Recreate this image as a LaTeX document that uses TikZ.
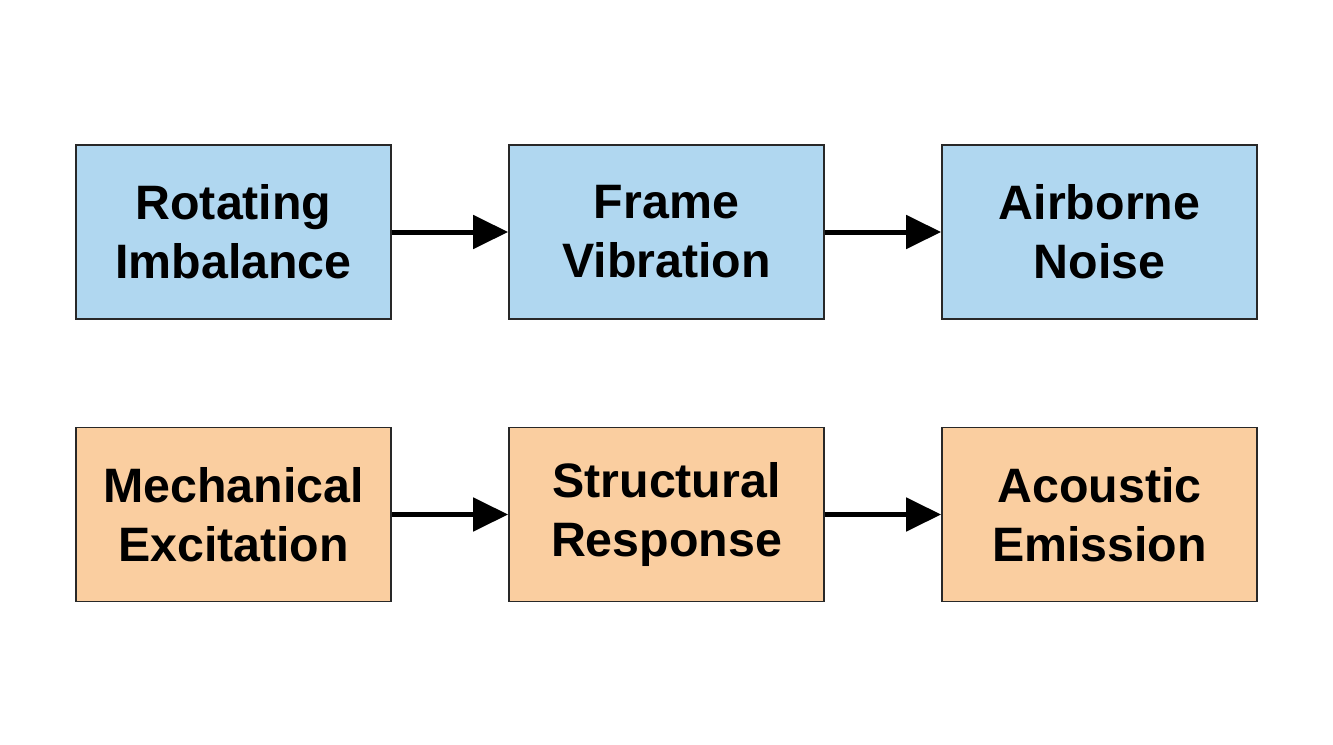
\documentclass[tikz,border=0pt]{standalone}
\usepackage{xcolor}
\usepackage{fontspec}
\usepackage{tikz}
\usetikzlibrary{arrows.meta,positioning}
\newfontfamily\boxfamily{Liberation Sans Bold}
\definecolor{skyfill}{RGB}{176,215,240}
\definecolor{peachfill}{RGB}{250,206,160}
\definecolor{edgegray}{RGB}{40,40,40}

\begin{document}
\begin{tikzpicture}[
    node distance=5.65cm and 8.66cm, on grid,
    stagebox/.style={draw=edgegray, line width=1pt, minimum width=6.3cm,
        minimum height=3.48cm, inner sep=0pt, align=center,
        font=\boxfamily\fontsize{27.5}{33.5}\selectfont},
    flowarrow/.style={line width=0.1cm, -{Triangle[length=0.7cm, width=0.66cm]}}
]
\useasboundingbox (0,0) rectangle (26.66,14.88);

% physical chain
\node[stagebox, fill=skyfill] (rotating) at (4.67,10.24) {Rotating\\Imbalance};
\node[stagebox, fill=skyfill, right=of rotating] (frame) {Frame\\Vibration};
\node[stagebox, fill=skyfill, right=of frame] (airborne) {Airborne\\Noise};

% generic chain
\node[stagebox, fill=peachfill, below=of rotating] (mechanical) {Mechanical\\Excitation};
\node[stagebox, fill=peachfill, right=of mechanical] (structural) {Structural\\Response};
\node[stagebox, fill=peachfill, right=of structural] (acoustic) {Acoustic\\Emission};

\draw[flowarrow] (rotating) -- (frame);
\draw[flowarrow] (frame) -- (airborne);
\draw[flowarrow] (mechanical) -- (structural);
\draw[flowarrow] (structural) -- (acoustic);
\end{tikzpicture}
\end{document}
